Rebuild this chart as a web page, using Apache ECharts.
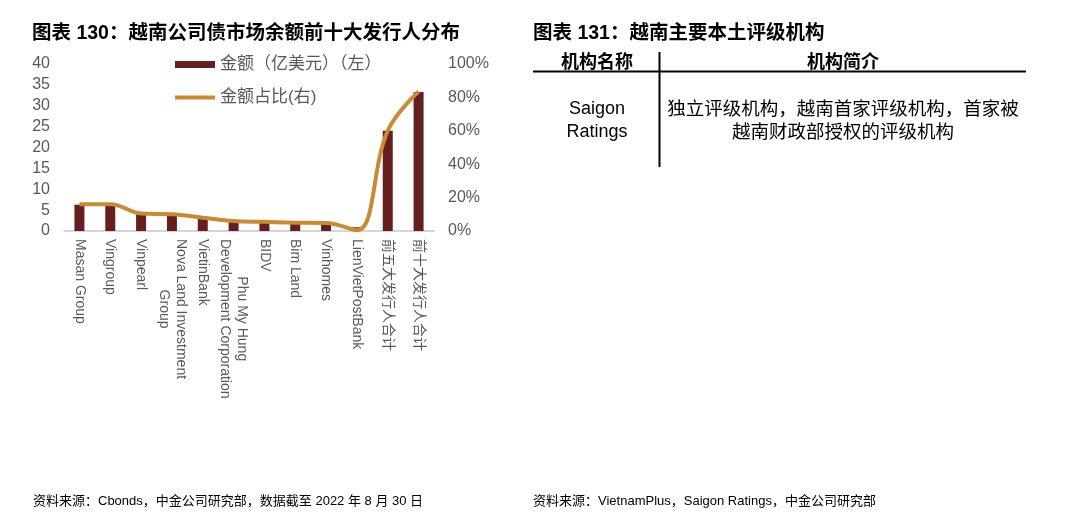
<!DOCTYPE html>
<html>
<head>
<meta charset="utf-8">
<script src="https://cdn.jsdelivr.net/npm/echarts@6/dist/echarts.min.js"></script>
<style>
  html, body { margin: 0; padding: 0; background: #fff; }
  #chart { width: 1080px; height: 518px; }
</style>
</head>
<body>
<div id="chart"></div>
<script>
// 数据
const categories = [
  'Masan Group', 'Vingroup', 'Vinpearl', 'Nova Land Investment\nGroup', 'VietinBank',
  'Phu My Hung\nDevelopment Corporation', 'BIDV', 'Bim Land', 'Vinhomes', 'LienVietPostBank',
  '前五大发行人合计', '前十大发行人合计'
];
const amountValues = [6.3, 6.0, 4.0, 3.8, 3.0, 2.2, 2.1, 2.0, 1.9, 0.9, 24.0, 33.3];
const shareValues = [0.16, 0.16, 0.105, 0.10, 0.08, 0.06, 0.055, 0.05, 0.048, 0.005, 0.60, 0.835];
const leftTicks = [0, 5, 10, 15, 20, 25, 30, 35, 40];
const rightTicks = ['0%', '20%', '40%', '60%', '80%', '100%'];

const FONT = '"Liberation Sans", Arial, "Noto Sans CJK SC", sans-serif';
const BAR_COLOR = '#661f1f';
const LINE_COLOR = '#c98a33';
const TEXT_COLOR = '#595959';

const chart = echarts.init(document.getElementById('chart'));

chart.setOption({
  animation: false,
  textStyle: { fontFamily: FONT },
  legend: {
    orient: 'vertical',
    left: 170,
    top: 51,
    itemGap: 16,
    itemWidth: 40,
    itemHeight: 7,
    textStyle: { fontSize: 17, color: TEXT_COLOR, fontFamily: FONT },
    data: [
      { name: '金额（亿美元）（左）', icon: 'rect' },
      // 线条图例：上下各留一段空白，使线宽约 4px
      { name: '金额占比(右)', icon: 'path://M0,0L40,0M0,1.5H40V5.5H0ZM0,7L40,7', itemStyle: { borderWidth: 0 } }
    ]
  },
  grid: { left: 64, right: 646, top: 64, bottom: 287 },
  xAxis: {
    type: 'category',
    data: categories,
    axisLine: { lineStyle: { color: '#c8c8c8', width: 1.5 } },
    axisTick: { lineStyle: { color: '#c8c8c8' }, length: 4 },
    axisLabel: {
      rotate: -90,
      interval: 0,
      margin: 8,
      fontSize: 14,
      color: TEXT_COLOR,
      formatter: v => v.split('\n').map(l => '{c|' + l + '}').join('\n'),
      rich: { c: { align: 'center', fontSize: 14, color: TEXT_COLOR, lineHeight: 17 } }
    }
  },
  yAxis: [
    {
      type: 'value',
      min: leftTicks[0],
      max: leftTicks[leftTicks.length - 1],
      interval: 5,
      splitLine: { show: false },
      axisLine: { show: false },
      axisTick: { show: false },
      axisLabel: { fontSize: 16, color: TEXT_COLOR, margin: 14 }
    },
    {
      type: 'value',
      min: 0,
      max: 1,
      interval: 0.2,
      splitLine: { show: false },
      axisLine: { show: false },
      axisTick: { show: false },
      axisLabel: {
        fontSize: 16,
        color: TEXT_COLOR,
        margin: 14,
        formatter: v => rightTicks[Math.round(v * 5)]
      }
    }
  ],
  series: [
    {
      name: '金额（亿美元）（左）',
      type: 'bar',
      data: amountValues,
      barWidth: 10,
      itemStyle: { color: BAR_COLOR }
    },
    {
      name: '金额占比(右)',
      type: 'line',
      yAxisIndex: 1,
      data: shareValues,
      smooth: 0.4,
      symbol: 'none',
      lineStyle: { color: LINE_COLOR, width: 4 },
      itemStyle: { color: LINE_COLOR }
    }
  ],
  graphic: [
    // 标题
    {
      type: 'text', x: 32, y: 34,
      style: { text: '图表 130：越南公司债市场余额前十大发行人分布', font: 'bold 19.5px ' + FONT, fill: '#000', verticalAlign: 'middle' }
    },
    // 右侧表格
    {
      type: 'text', x: 533, y: 34,
      style: { text: '图表 131：越南主要本土评级机构', font: 'bold 19.5px ' + FONT, fill: '#000', verticalAlign: 'middle' }
    },
    {
      type: 'text', x: 597, y: 63,
      style: { text: '机构名称', font: 'bold 18px ' + FONT, fill: '#000', align: 'center', verticalAlign: 'middle' }
    },
    {
      type: 'text', x: 843, y: 63,
      style: { text: '机构简介', font: 'bold 18px ' + FONT, fill: '#000', align: 'center', verticalAlign: 'middle' }
    },
    {
      type: 'line',
      shape: { x1: 533, y1: 71.5, x2: 1026, y2: 71.5 },
      style: { stroke: '#000', lineWidth: 2 }
    },
    {
      type: 'line',
      shape: { x1: 659.5, y1: 52, x2: 659.5, y2: 167 },
      style: { stroke: '#000', lineWidth: 2 }
    },
    {
      type: 'text', x: 597, y: 121,
      style: { text: 'Saigon\nRatings', font: '18px ' + FONT, fill: '#000', align: 'center', verticalAlign: 'middle', lineHeight: 23 }
    },
    {
      type: 'text', x: 843, y: 121,
      style: {
        text: '独立评级机构，越南首家评级机构，首家被\n越南财政部授权的评级机构',
        font: '18.5px ' + FONT, fill: '#000', align: 'center', verticalAlign: 'middle', lineHeight: 23
      }
    },
    // 资料来源
    {
      type: 'text', x: 33, y: 501,
      style: { text: '资料来源：Cbonds，中金公司研究部，数据截至 2022 年 8 月 30 日', font: '13px "Liberation Sans Narrow", ' + FONT, fill: '#000', verticalAlign: 'middle' }
    },
    {
      type: 'text', x: 533, y: 501,
      style: { text: '资料来源：VietnamPlus，Saigon Ratings，中金公司研究部', font: '13px "Liberation Sans Narrow", ' + FONT, fill: '#000', verticalAlign: 'middle' }
    }
  ]
});
</script>
</body>
</html>
